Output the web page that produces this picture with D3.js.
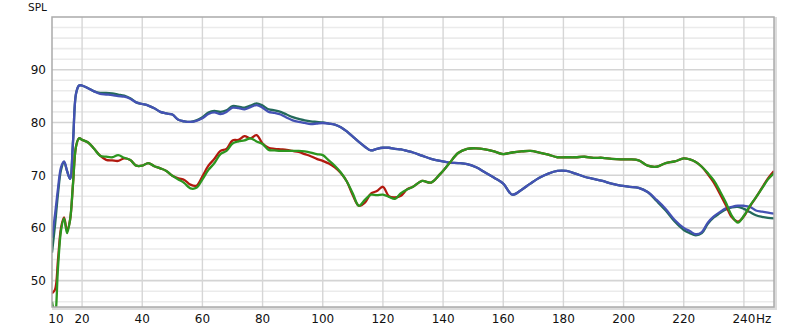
<!DOCTYPE html>
<html>
<head>
<meta charset="utf-8">
<script src="https://cdn.jsdelivr.net/npm/d3@7"></script>
<style>
  body { margin: 0; background: #fff; }
  text { font-family: "DejaVu Sans", sans-serif; fill: #111; }
</style>
</head>
<body>
<div id="chart"></div>
<script>
// frequency points (Hz)
const freqs = [10,11,12,13,14,15,16,17,18,19,20,22,24,26,28,30,32,34,36,38,40,42,44,46,48,50,52,54,56,58,60,62,64,66,68,70,72,74,76,78,80,82,84,86,88,90,92,94,96,98,100,102,104,106,108,110,112,114,116,118,120,122,124,126,128,130,133,136,139,142,145,148,151,154,157,160,163,166,169,172,175,178,181,184,187,190,193,196,199,202,205,208,211,214,217,220,222,224,226,228,230,232,234,236,238,240,242,244,246,248,250];

// SPL per series (dB)
const blueSPL = [58.1,62.5,67.5,71.5,72.6,70.8,69.3,76.5,85.5,87.0,87.0,86.5,85.9,85.4,85.3,85.2,85.0,84.9,84.5,83.8,83.5,83.2,82.7,82.0,81.7,81.5,80.5,80.2,80.1,80.3,80.8,81.6,81.9,81.6,82.0,82.8,82.7,82.5,82.9,83.3,82.8,82.0,81.8,81.5,80.9,80.4,80.1,79.9,79.7,79.8,79.9,79.8,79.6,79.1,78.3,77.3,76.3,75.4,74.7,75.0,75.2,75.2,75.0,74.9,74.6,74.3,73.7,73.1,72.7,72.4,72.3,72.1,71.5,70.5,69.5,68.4,66.3,67.2,68.4,69.5,70.3,70.8,70.8,70.3,69.7,69.3,68.9,68.4,68.0,67.8,67.6,66.8,65.3,63.6,61.5,60.0,59.4,58.8,59.2,61.0,62.2,63.0,63.7,64.0,64.2,64.2,64.0,63.3,63.1,62.9,62.7];
const tealSPL = [55.3,60.5,66.5,71.0,72.5,70.8,69.3,76.5,85.5,87.0,87.0,86.5,85.9,85.6,85.6,85.5,85.3,85.1,84.6,83.8,83.5,83.2,82.7,82.0,81.7,81.5,80.5,80.2,80.1,80.4,81.0,81.9,82.2,82.0,82.3,83.1,83.0,82.8,83.2,83.6,83.2,82.5,82.3,82.0,81.5,81.0,80.7,80.4,80.2,80.1,80.0,79.8,79.6,79.1,78.3,77.3,76.3,75.4,74.7,75.0,75.2,75.2,75.0,74.9,74.6,74.3,73.7,73.1,72.7,72.4,72.3,72.1,71.5,70.5,69.5,68.4,66.3,67.2,68.4,69.5,70.3,70.8,70.8,70.3,69.7,69.3,68.9,68.4,68.0,67.8,67.6,66.8,65.1,63.3,61.2,59.6,59.0,58.6,59.0,60.8,62.0,62.8,63.5,63.9,64.0,63.6,63.0,62.4,62.1,61.9,61.8];
const redSPL = [47.6,48.3,54.0,60.0,62.0,59.5,61.5,68.5,75.5,77.0,76.7,76.2,75.0,73.7,72.9,72.8,72.7,73.2,72.9,71.8,71.8,72.3,71.7,71.3,70.8,69.9,69.4,69.1,68.2,68.0,69.8,71.8,73.1,74.6,75.0,76.6,76.7,77.4,77.0,77.6,76.0,75.2,75.0,74.9,74.8,74.6,74.4,74.0,73.6,73.1,72.7,72.2,71.5,70.4,68.8,66.2,64.2,64.8,66.5,67.0,67.8,66.0,65.8,66.1,67.3,67.8,68.9,68.6,70.2,72.2,74.2,75.0,75.1,74.9,74.5,74.0,74.3,74.5,74.6,74.3,73.9,73.4,73.4,73.4,73.5,73.3,73.3,73.1,73.0,73.0,72.8,71.8,71.6,72.3,72.6,73.2,73.0,72.5,71.6,70.2,68.6,66.5,64.3,62.0,61.2,62.2,64.1,65.8,67.6,69.4,70.8];
const greenSPL = [46.0,43.5,52.5,59.5,61.8,59.0,61.5,68.5,75.5,77.0,76.7,76.2,75.0,73.7,73.5,73.4,73.8,73.3,72.9,71.8,71.8,72.3,71.7,71.3,70.8,69.9,69.2,68.5,67.5,67.6,69.2,71.0,72.3,74.0,74.6,76.0,76.4,76.6,77.0,76.4,75.9,74.8,74.7,74.6,74.6,74.6,74.6,74.5,74.3,74.0,73.8,72.8,71.8,70.5,68.8,66.5,64.2,65.3,66.3,66.2,66.3,65.9,65.5,66.6,67.3,67.8,68.9,68.6,70.2,72.2,74.2,75.0,75.1,74.9,74.5,74.0,74.3,74.5,74.6,74.3,73.9,73.4,73.4,73.4,73.5,73.3,73.3,73.1,73.0,73.0,72.8,71.8,71.6,72.3,72.6,73.2,73.0,72.5,71.6,70.4,69.0,67.0,64.8,62.3,61.0,62.3,64.2,65.8,67.5,69.2,70.4];

const xTicks = [10,20,40,60,80,100,120,140,160,180,200,220,240];
const yTicks = [50,60,70,80,90];

const width = 800, height = 331;
const margin = {top: 17, left: 52, right: 26, bottom: 24};

const svg = d3.select("#chart").append("svg")
    .attr("width", width)
    .attr("height", height);

const xScale = d3.scaleLinear()
    .domain([10, 250])
    .range([margin.left, width - margin.right]);

const yScale = d3.scaleLinear()
    .domain([45, 100])
    .range([height - margin.bottom, margin.top]);

const x0 = margin.left, x1 = width - margin.right;
const y0 = margin.top, y1 = height - margin.bottom;

// frame shadow
svg.append("rect")
    .attr("x", x0 + 1.5).attr("y", y0 + 1.5)
    .attr("width", x1 - x0).attr("height", y1 - y0)
    .attr("fill", "none")
    .attr("stroke", "#dcdcdc")
    .attr("stroke-width", 3);

svg.append("rect")
    .attr("x", x0).attr("y", y0)
    .attr("width", x1 - x0).attr("height", y1 - y0)
    .attr("fill", "#fff");

// horizontal grid, minor every 2 dB
svg.append("g").selectAll("line")
    .data(d3.range(46, 100, 2))
    .enter().append("line")
        .attr("x1", x0).attr("x2", x1)
        .attr("y1", d => yScale(d)).attr("y2", d => yScale(d))
        .attr("stroke", d => d % 10 === 0 ? "#d4d4d4" : "#ebebeb")
        .attr("stroke-width", 1.6);

// vertical grid
svg.append("g").selectAll("line")
    .data(xTicks.filter(d => d > 10))
    .enter().append("line")
        .attr("x1", d => xScale(d)).attr("x2", d => xScale(d))
        .attr("y1", y0).attr("y2", y1)
        .attr("stroke", "#d6d6d6")
        .attr("stroke-width", 1.4);

// curves
svg.append("clipPath").attr("id", "clip")
    .append("rect")
    .attr("x", x0).attr("y", y0)
    .attr("width", x1 - x0).attr("height", y1 - y0);

const line = d3.line()
    .x((d, i) => xScale(freqs[i]))
    .y(d => yScale(d))
    .curve(d3.curveCatmullRom.alpha(0.5));

const series = [
    {vals: tealSPL, color: "#23695a"},
    {vals: blueSPL, color: "#4452b4"},
    {vals: redSPL, color: "#b2190f"},
    {vals: greenSPL, color: "#2c961f"}
];

svg.append("g").attr("clip-path", "url(#clip)")
    .selectAll("path")
    .data(series)
    .enter().append("path")
        .attr("d", d => line(d.vals))
        .attr("fill", "none")
        .attr("stroke", d => d.color)
        .attr("stroke-width", 2.3)
        .attr("stroke-linejoin", "round");

// frame
svg.append("rect")
    .attr("x", x0).attr("y", y0)
    .attr("width", x1 - x0).attr("height", y1 - y0)
    .attr("fill", "none")
    .attr("stroke", "#ababab")
    .attr("stroke-width", 1.5);

// axis labels
svg.append("g").selectAll("text")
    .data(yTicks)
    .enter().append("text")
        .attr("x", 46)
        .attr("y", d => yScale(d) + 4.5)
        .attr("text-anchor", "end")
        .attr("font-size", 12)
        .text(d => d);

svg.append("g").selectAll("text")
    .data(xTicks)
    .enter().append("text")
        .attr("x", d => d === 10 ? xScale(d) + 4 : xScale(d))
        .attr("y", 323)
        .attr("text-anchor", "middle")
        .attr("font-size", 12)
        .text(d => d);

svg.append("text")
    .attr("x", xScale(240) + 12)
    .attr("y", 323)
    .attr("font-size", 12)
    .text("Hz");

svg.append("text")
    .attr("x", 28)
    .attr("y", 11)
    .attr("font-size", 10.5)
    .text("SPL");
</script>
</body>
</html>
